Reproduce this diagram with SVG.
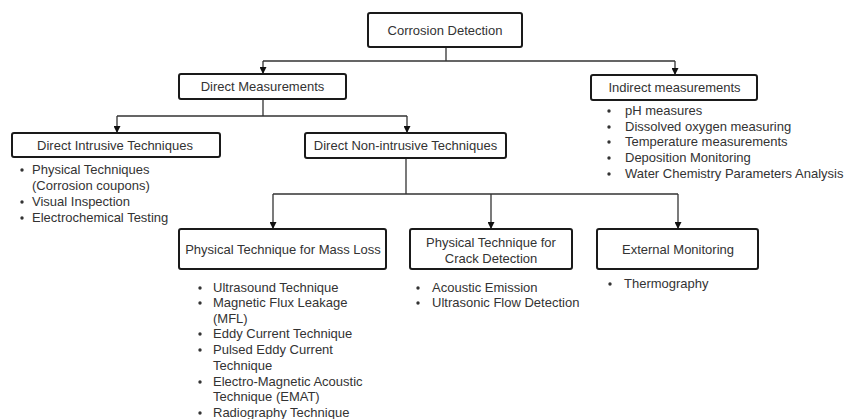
<svg xmlns="http://www.w3.org/2000/svg" width="847" height="419" viewBox="0 0 847 419">
<style>
.box{fill:#fff;stroke:#1a1a1a;stroke-width:2}
.t{font-family:"Liberation Sans",Arial,sans-serif;font-size:13px;fill:#333}
.c{text-anchor:middle}
.ln{fill:none;stroke:#333;stroke-width:1.3}
.ar{fill:none;stroke:#333;stroke-width:1.3;marker-end:url(#ah)}
.dot{fill:#333}
</style>
<defs>
<marker id="ah" viewBox="0 0 10 10" refX="10" refY="5" markerWidth="7" markerHeight="7" markerUnits="userSpaceOnUse" orient="auto">
<path d="M0,0 L10,5 L0,10 Z" fill="#111"/>
</marker>
</defs>
<rect width="847" height="419" fill="#fff"/>
<g id="connectors">
<path class="ln" d="M446 47 V61 M263 61 H675"/>
<path class="ar" d="M263 61 V74"/>
<path class="ar" d="M675 61 V75"/>
<path class="ln" d="M263 99 V116 M117 116 H407"/>
<path class="ar" d="M117 116 V133"/>
<path class="ar" d="M407 116 V133"/>
<path class="ln" d="M406 158 V194 M273 194 H678"/>
<path class="ar" d="M273 194 V229"/>
<path class="ar" d="M491 194 V229"/>
<path class="ar" d="M678 194 V229"/>
</g>
<g id="corrosion-detection">
<rect class="box" x="368" y="13" width="154" height="34" rx="2"/>
<text class="t c" x="445" y="34.5">Corrosion Detection</text>
</g>
<g id="direct-measurements">
<rect class="box" x="179" y="74" width="167" height="25" rx="2"/>
<text class="t c" x="262.5" y="90.5">Direct Measurements</text>
</g>
<g id="indirect-measurements">
<rect class="box" x="591" y="75" width="166" height="25" rx="2"/>
<text class="t c" x="674.5" y="91.5">Indirect measurements</text>
<circle class="dot" cx="609" cy="111" r="1.7"/>
<circle class="dot" cx="609" cy="127" r="1.7"/>
<circle class="dot" cx="609" cy="142" r="1.7"/>
<circle class="dot" cx="609" cy="158" r="1.7"/>
<circle class="dot" cx="609" cy="174" r="1.7"/>
<text class="t" x="625" y="115">pH measures</text>
<text class="t" x="625" y="131">Dissolved oxygen measuring</text>
<text class="t" x="625" y="146">Temperature measurements</text>
<text class="t" x="625" y="162">Deposition Monitoring</text>
<text class="t" x="625" y="178">Water Chemistry Parameters Analysis</text>
</g>
<g id="direct-intrusive">
<rect class="box" x="12" y="133" width="208" height="24" rx="2"/>
<text class="t c" x="115" y="149.5">Direct Intrusive Techniques</text>
<circle class="dot" cx="22" cy="170" r="1.7"/>
<circle class="dot" cx="22" cy="202" r="1.7"/>
<circle class="dot" cx="22" cy="218" r="1.7"/>
<text class="t" x="32" y="173.5">Physical Techniques</text>
<text class="t" x="32" y="189.5">(Corrosion coupons)</text>
<text class="t" x="32" y="205.5">Visual Inspection</text>
<text class="t" x="32" y="221.5">Electrochemical Testing</text>
</g>
<g id="direct-non-intrusive">
<rect class="box" x="305" y="133" width="201" height="25" rx="2"/>
<text class="t c" x="405.5" y="150">Direct Non-intrusive Techniques</text>
</g>
<g id="mass-loss">
<rect class="box" x="179" y="229" width="207" height="40" rx="2"/>
<text class="t c" x="283" y="253.5">Physical Technique for Mass Loss</text>
<circle class="dot" cx="200" cy="288" r="1.7"/>
<circle class="dot" cx="200" cy="303" r="1.7"/>
<circle class="dot" cx="200" cy="334" r="1.7"/>
<circle class="dot" cx="200" cy="350" r="1.7"/>
<circle class="dot" cx="200" cy="382" r="1.7"/>
<circle class="dot" cx="200" cy="413" r="1.7"/>
<text class="t" x="213" y="291.5">Ultrasound Technique</text>
<text class="t" x="213" y="306.5">Magnetic Flux Leakage</text>
<text class="t" x="213" y="322.5">(MFL)</text>
<text class="t" x="213" y="337.5">Eddy Current Technique</text>
<text class="t" x="213" y="353.5">Pulsed Eddy Current</text>
<text class="t" x="213" y="369.5">Technique</text>
<text class="t" x="213" y="385.5">Electro-Magnetic Acoustic</text>
<text class="t" x="213" y="400.5">Technique (EMAT)</text>
<text class="t" x="213" y="416.5">Radiography Technique</text>
</g>
<g id="crack-detection">
<rect class="box" x="410" y="229" width="162" height="40" rx="2"/>
<text class="t c" x="491" y="246.5">Physical Technique for</text>
<text class="t c" x="491" y="262.5">Crack Detection</text>
<circle class="dot" cx="418" cy="288" r="1.7"/>
<circle class="dot" cx="418" cy="303" r="1.7"/>
<text class="t" x="432" y="291.5">Acoustic Emission</text>
<text class="t" x="432" y="306.5">Ultrasonic Flow Detection</text>
</g>
<g id="external-monitoring">
<rect class="box" x="597" y="229" width="161" height="40" rx="2"/>
<text class="t c" x="678" y="253.5">External Monitoring</text>
<circle class="dot" cx="610" cy="284" r="1.7"/>
<text class="t" x="624" y="288">Thermography</text>
</g>
</svg>
